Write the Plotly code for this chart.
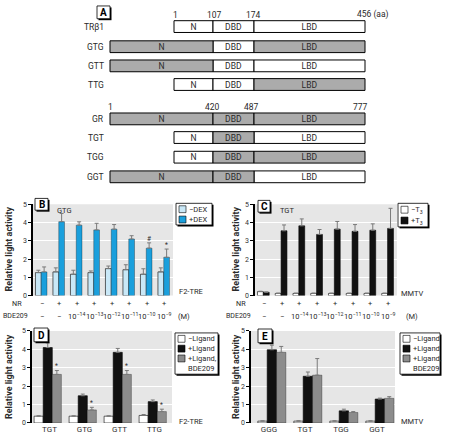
import plotly.graph_objects as go

W, H = 449, 442
FONT = "Roboto, Liberation Sans, sans-serif"

# ---------------- data ----------------
# Panel A: chimeric constructs (letters: origin of N, DBD, LBD; T = TRβ1, G = GR)
tr_constructs = ["TRβ1", "GTG", "GTT", "TTG"]
gr_constructs = ["GR", "TGT", "TGG", "GGT"]
construct_origin = {"TRβ1": "TTT", "GR": "GGG"}
domain_names = ["N", "DBD", "LBD"]
tr_boundaries = ["1", "107", "174", "456 (aa)"]
gr_boundaries = ["1", "420", "487", "777"]

# Panel B
b_nr = ["−", "+", "+", "+", "+", "+", "+", "+"]
b_bde = ["−", "−", "10<sup>−14</sup>", "10<sup>−13</sup>", "10<sup>−12</sup>",
         "10<sup>−11</sup>", "10<sup>−10</sup>", "10<sup>−9</sup>"]
b_minus_dex = [1.26, 1.30, 1.17, 1.26, 1.48, 1.42, 1.17, 1.30]
b_minus_dex_err = [0.13, 0.22, 0.22, 0.09, 0.14, 0.27, 0.30, 0.22]
b_plus_dex = [1.30, 4.05, 3.86, 3.60, 3.64, 3.10, 2.60, 2.10]
b_plus_dex_err = [0.27, 0.45, 0.18, 0.36, 0.25, 0.18, 0.29, 0.45]
b_marks = ["", "", "", "", "", "", "#", "*"]

# Panel C
c_nr = b_nr
c_bde = b_bde
c_minus_t3 = [0.22, 0.12, 0.12, 0.12, 0.12, 0.12, 0.12, 0.12]
c_minus_t3_err = [0.02, 0.02, 0.02, 0.02, 0.02, 0.02, 0.02, 0.02]
c_plus_t3 = [0.18, 3.55, 3.82, 3.35, 3.64, 3.52, 3.58, 3.68]
c_plus_t3_err = [0.02, 0.32, 0.38, 0.27, 0.42, 0.37, 0.35, 1.10]

# Panel D
d_cats = ["TGT", "GTG", "GTT", "TTG"]
d_minus = [0.37, 0.37, 0.37, 0.41]
d_minus_err = [0.02, 0.02, 0.02, 0.05]
d_plus = [4.10, 1.48, 3.84, 1.16]
d_plus_err = [0.25, 0.09, 0.21, 0.09]
d_bde = [2.64, 0.71, 2.64, 0.62]
d_bde_err = [0.21, 0.14, 0.21, 0.13]
d_marks = ["*", "*", "*", "*"]

# Panel E
e_cats = ["GGG", "TGT", "TGG", "GGT"]
e_minus = [0.10, 0.10, 0.10, 0.10]
e_minus_err = [0.02, 0.02, 0.02, 0.02]
e_plus = [3.98, 2.54, 0.66, 1.30]
e_plus_err = [0.25, 0.23, 0.09, 0.05]
e_bde = [3.84, 2.60, 0.57, 1.34]
e_bde_err = [0.32, 0.90, 0.05, 0.09]

# ---------------- styles ----------------
LIGHT_BLUE = "#c9e8f7"
BLUE = "#1a9fdc"
BLACK = "#111111"
GREY_BAR = "#8c8c8c"
SCHEMA_GREY = "#ababab"
PANEL_BG = "#e6e6e6"
ERR = "#7a7a7a"
TXT = "#2a2a2a"


def fx(v):
    return v / W


def fy(v):
    return 1 - v / H


annotations = []


def ann(x, y, text, xref="paper", yref="paper", size=8, xanchor="center",
        color=TXT, **kw):
    annotations.append(dict(x=x, y=y, xref=xref, yref=yref, text=text,
                            xanchor=xanchor, yanchor="middle", showarrow=False,
                            font=dict(family=FONT, size=size, color=color), **kw))


fig = go.Figure()

# ---------------- Panel A (schematic) ----------------
seg_extent = {  # schematic extent of each domain, by origin
    ("N", "T"): (174, 213), ("N", "G"): (110, 213),
    ("DBD", "T"): (213, 254), ("DBD", "G"): (213, 254),
    ("LBD", "T"): (254, 365), ("LBD", "G"): (254, 365),
}
row_y = {"TRβ1": 23, "GTG": 43.5, "GTT": 63, "TTG": 82,
         "GR": 117, "TGT": 136, "TGG": 156, "GGT": 176}

for origin, fill in (("T", "white"), ("G", SCHEMA_GREY)):
    ys, bases, lens, texts = [], [], [], []
    for name in tr_constructs + gr_constructs:
        code = construct_origin.get(name, name)
        for dom, o in zip(domain_names, code):
            if o != origin:
                continue
            x0, x1 = seg_extent[(dom, o)]
            ys.append(row_y[name])
            bases.append(x0)
            lens.append(x1 - x0)
            texts.append(dom)
    fig.add_trace(go.Bar(
        x=lens, y=ys, base=bases, orientation="h", width=12,
        marker=dict(color=fill, line=dict(color="black", width=1)),
        text=texts, textposition="inside", insidetextanchor="middle", textangle=0,
        textfont=dict(family=FONT, size=8.5, color=TXT),
        constraintext="none", xaxis="x5", yaxis="y5", showlegend=False,
        hoverinfo="skip"))

for name in tr_constructs + gr_constructs:
    ann(106, row_y[name], name, xref="x5", yref="y5", size=8.5, xanchor="right")
tr_bx = [175, 214, 253, 355]
gr_bx = [110, 212, 251, 360]
for i, t in enumerate(tr_boundaries):
    ann(tr_bx[i], 11, t, xref="x5", yref="y5", size=8.5,
        xanchor="left" if i == 3 else "center")
for i, t in enumerate(gr_boundaries):
    ann(gr_bx[i], 105, t, xref="x5", yref="y5", size=8.5)


# ---------------- bar panels ----------------
def add_bars(xa, ya, vals, errs, color, width, offset, line_w=0.6):
    fig.add_trace(go.Bar(
        x=list(range(len(vals))), y=vals, width=width, offset=offset,
        marker=dict(color=color, line=dict(color="black", width=line_w)),
        error_y=dict(type="data", array=errs, arrayminus=[0] * len(errs),
                     symmetric=False, color=ERR, thickness=1, width=2),
        xaxis=xa, yaxis=ya, showlegend=False, hoverinfo="skip"))


add_bars("x", "y", b_minus_dex, b_minus_dex_err, LIGHT_BLUE, 0.33, -0.36)
add_bars("x", "y", b_plus_dex, b_plus_dex_err, BLUE, 0.33, -0.03, 0.3)
add_bars("x2", "y2", c_minus_t3, c_minus_t3_err, "white", 0.33, -0.36)
add_bars("x2", "y2", c_plus_t3, c_plus_t3_err, BLACK, 0.33, -0.03)
add_bars("x3", "y3", d_minus, d_minus_err, "white", 0.26, -0.44)
add_bars("x3", "y3", d_plus, d_plus_err, BLACK, 0.26, -0.18)
add_bars("x3", "y3", d_bde, d_bde_err, GREY_BAR, 0.26, 0.08, 0.3)
add_bars("x4", "y4", e_minus, e_minus_err, "white", 0.26, -0.31)
add_bars("x4", "y4", e_plus, e_plus_err, BLACK, 0.26, -0.05)
add_bars("x4", "y4", e_bde, e_bde_err, GREY_BAR, 0.26, 0.21, 0.3)

# significance marks
for i, m in enumerate(b_marks):
    if m:
        ann(i + 0.135, b_plus_dex[i] + b_plus_dex_err[i] + 0.2, m, xref="x", yref="y",
            size=6.5)
for i, m in enumerate(d_marks):
    ann(i + 0.21, d_bde[i] + d_bde_err[i] + 0.22, m, xref="x3", yref="y3", size=6.5)

# NR / BDE209 rows under B and C
for xa, nr, bde in (("x", b_nr, b_bde), ("x2", c_nr, c_bde)):
    for i in range(len(nr)):
        ann(i, fy(305), nr[i], xref=xa, size=7.5)
        ann(i, fy(318), bde[i], xref=xa, size=7.5)
for xr, xl in ((24, 1), (248, 224)):
    ann(fx(xr), fy(305), "NR", size=7.2, xanchor="right")
    ann(fx(xl), fy(318), "BDE209", size=7, xanchor="left")
for xc in (184, 412):
    ann(fx(xc), fy(318), "(M)", size=7.5)

# y-axis titles
for xc, yc in ((9, 250), (236, 250), (9, 380), (236, 380)):
    ann(fx(xc), fy(yc), "<b>Relative light activity</b>", size=9, textangle=-90)

# reporter / construct labels
for t, xl, yc in (("F2-TRE", 177, 293), ("MMTV", 399, 295), ("F2-TRE", 177, 425),
                  ("MMTV", 399, 425), ("GTG", 55, 210), ("TGT", 278, 210)):
    ann(fx(xl), fy(yc), t, size=7.5, xanchor="left")

shapes = []
# panel backgrounds
for ax in ("", "2", "3", "4"):
    shapes.append(dict(type="rect", xref=f"x{ax} domain", yref=f"y{ax} domain",
                       x0=0, x1=1, y0=0, y1=1, fillcolor=PANEL_BG,
                       line=dict(width=0), layer="below"))


def shadow_box(x0, y0, x1, y1):
    shapes.append(dict(type="rect", xref="paper", yref="paper",
                       x0=fx(x0 + 1.5), x1=fx(x1 + 1.5), y0=fy(y1 + 1.5), y1=fy(y0 + 1.5),
                       fillcolor="black", line=dict(width=0)))
    shapes.append(dict(type="rect", xref="paper", yref="paper",
                       x0=fx(x0), x1=fx(x1), y0=fy(y1), y1=fy(y0),
                       fillcolor="white", line=dict(color="black", width=0.8)))


def panel_label(letter, x0, y0, x1, y1):
    shadow_box(x0, y0, x1, y1)
    ann(fx((x0 + x1) / 2), fy((y0 + y1) / 2 + 0.5), f"<b>{letter}</b>", size=10,
        color="black")


panel_label("A", 97, 2, 110, 15)
panel_label("B", 35, 198, 48, 210)
panel_label("C", 258, 200, 270, 212)
panel_label("D", 34, 330, 48, 344)
panel_label("E", 258, 331, 272, 345)


def legend_box(x0, y0, x1, y1, items):
    shadow_box(x0, y0, x1, y1)
    for sy, fill, label in items:
        if fill is not None:
            shapes.append(dict(type="rect", xref="paper", yref="paper",
                               x0=fx(x0 + 3), x1=fx(x0 + 10), y0=fy(sy + 3.5), y1=fy(sy - 3.5),
                               fillcolor=fill, line=dict(color="black", width=0.6)))
        ann(fx(x0 + 11), fy(sy), label, size=7.5, xanchor="left")


legend_box(176, 203, 212, 225, [(209, LIGHT_BLUE, "−DEX"), (219.5, BLUE, "+DEX")])
legend_box(398, 203, 428, 227, [(209.5, "white", "−T<sub>3</sub>"),
                                (220.5, BLACK, "+T<sub>3</sub>")])
for lx0, lx1 in ((175, 218), (400, 440)):
    legend_box(lx0, 335, lx1, 377, [(341, "white", "−Ligand"), (351, BLACK, "+Ligand"),
                                    (361, GREY_BAR, "+Ligand,"), (371, None, "BDE209")])

# ---------------- axes ----------------
yax = dict(range=[0, 5], tickvals=[0, 1, 2, 3, 4, 5], ticks="outside", ticklen=3,
           tickcolor="black", tickfont=dict(family=FONT, size=7, color="#333"),
           showline=True, linecolor="black", linewidth=1.5, gridcolor="white",
           gridwidth=1, zeroline=False, fixedrange=True)
xbc = dict(range=[-0.5, 7.5], showticklabels=False, ticks="", showgrid=False,
           zeroline=False, showline=False)
xde = dict(range=[-0.5, 3.5], tickvals=[0, 1, 2, 3], ticks="", showgrid=False,
           zeroline=False, showline=False,
           tickfont=dict(family=FONT, size=8, color="#333"))

fig.update_layout(
    width=W, height=H, autosize=False,
    margin=dict(l=0, r=0, t=0, b=0),
    paper_bgcolor="white", plot_bgcolor="rgba(0,0,0,0)",
    barmode="overlay", showlegend=False,
    font=dict(family=FONT),
    xaxis=dict(domain=[fx(33), fx(173)], anchor="y", **xbc),
    yaxis=dict(domain=[fy(297), fy(204)], anchor="x", **yax),
    xaxis2=dict(domain=[fx(255), fx(397)], anchor="y2", **xbc),
    yaxis2=dict(domain=[fy(297), fy(204)], anchor="x2", **yax),
    xaxis3=dict(domain=[fx(32), fx(172)], anchor="y3", ticktext=d_cats, **xde),
    yaxis3=dict(domain=[fy(426.7), fy(333)], anchor="x3", **yax),
    xaxis4=dict(domain=[fx(251), fx(395)], anchor="y4", ticktext=e_cats, **xde),
    yaxis4=dict(domain=[fy(426.7), fy(333)], anchor="x4", **yax),
    xaxis5=dict(domain=[0, 1], range=[0, W], anchor="y5", visible=False, fixedrange=True),
    yaxis5=dict(domain=[fy(190), 1], range=[190, 0], anchor="x5", visible=False,
                fixedrange=True),
    annotations=annotations, shapes=shapes,
)

fig.write_html("out.html", config={"displayModeBar": False},
               post_script="document.body.style.margin='0';document.body.style.padding='0';")
